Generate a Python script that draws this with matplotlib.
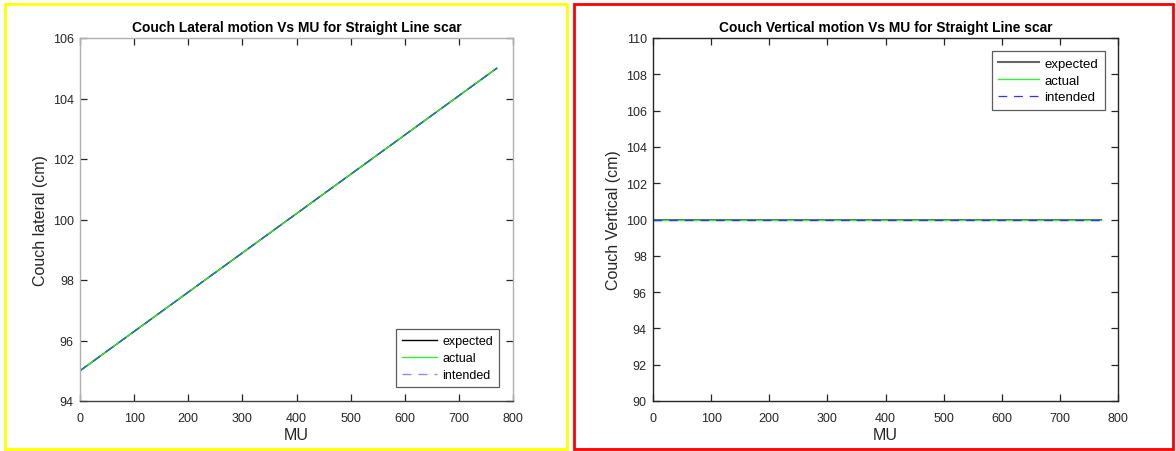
import matplotlib
matplotlib.use("Agg")
import matplotlib.pyplot as plt
from matplotlib.patches import Rectangle

plt.rcParams['font.family'] = ['Liberation Sans', 'DejaVu Sans']

# Data
mu = [0, 770]
lateral_expected = [95, 105]
lateral_actual = [95, 105]
lateral_intended = [95, 105]
vertical_expected = [100, 100]
vertical_actual = [100, 100]
vertical_intended = [100, 100]

lat_yticks = [94, 96, 98, 100, 102, 104, 106]
vert_yticks = [90, 92, 94, 96, 98, 100, 102, 104, 106, 108, 110]
xticks = [0, 100, 200, 300, 400, 500, 600, 700, 800]
legend_labels = ["expected", "actual", "intended"]

W, H = 1176, 452
fig = plt.figure(figsize=(W / 100, H / 100), dpi=100)

def ax_rect(x0, x1, ytop, ybot):
    return [x0 / W, (H - ybot) / H, (x1 - x0) / W, (ybot - ytop) / H]

txt = '#262626'

def style(ax, spine_col, bottom_col):
    ax.tick_params(direction='in', top=True, right=True, labelsize=9,
                   colors=txt, length=5, width=0.9)
    ax.tick_params(axis='x', pad=7.8)
    ax.tick_params(axis='y', pad=4.5)
    for s in ['top', 'right', 'left']:
        ax.spines[s].set_color(spine_col)
        ax.spines[s].set_linewidth(1.0)
    ax.spines['bottom'].set_color(bottom_col)
    ax.spines['bottom'].set_linewidth(1.0)

# Left panel
ax1 = fig.add_axes(ax_rect(80, 513, 39, 402))
ax1.plot(mu, lateral_expected, color='black', lw=1.0, label=legend_labels[0])
ax1.plot(mu, lateral_actual, color='#33ee33', lw=1.0, label=legend_labels[1])
ax1.plot(mu, lateral_intended, color='#0000ff', alpha=0.45, lw=1.0,
         ls=(0, (6.5, 5)), label=legend_labels[2])
ax1.set_xlim(0, 800)
ax1.set_ylim(94, 106)
ax1.set_xticks(xticks)
ax1.set_yticks(lat_yticks)
style(ax1, '#b0b0b0', '#404040')
ax1.set_title("Couch Lateral motion Vs MU for Straight Line scar",
              fontsize=9.9, fontweight='bold', pad=4.8)
ax1.set_xlabel("MU", fontsize=11.5, color=txt, labelpad=2)
ax1.set_ylabel("Couch lateral (cm)", fontsize=11.5, color=txt, labelpad=3.2)
leg1 = ax1.legend(loc='lower right', fontsize=9, frameon=True, fancybox=False,
                  edgecolor='#333333', handlelength=2.8, borderaxespad=1.1,
                  labelspacing=0.38, handletextpad=0.4, borderpad=0.5)
leg1.get_frame().set_linewidth(0.9)

# Right panel
ax2 = fig.add_axes(ax_rect(653, 1118, 39, 402))
ax2.plot(mu, vertical_expected, color='#666666', lw=1.5, label=legend_labels[0])
ax2.plot(mu, vertical_actual, color='#33ee33', lw=1.0, label=legend_labels[1])
ax2.plot(mu, vertical_intended, color='#3333ff', lw=0.9,
         ls=(0, (7, 5.5)), label=legend_labels[2])
ax2.set_xlim(0, 800)
ax2.set_ylim(90, 110)
ax2.set_xticks(xticks)
ax2.set_yticks(vert_yticks)
style(ax2, '#262626', '#262626')
ax2.set_title("Couch Vertical motion Vs MU for Straight Line scar",
              fontsize=9.9, fontweight='bold', pad=4.8)
ax2.set_xlabel("MU", fontsize=11.5, color=txt, labelpad=2)
ax2.set_ylabel("Couch Vertical (cm)", fontsize=11.5, color=txt, labelpad=3.2)
leg2 = ax2.legend(loc='upper right', fontsize=9.5, frameon=True, fancybox=False,
                  edgecolor='#333333', handlelength=3.1, borderaxespad=1.0,
                  labelspacing=0.33, handletextpad=0.4, borderpad=0.5)
leg2.get_frame().set_linewidth(0.9)

# Panel borders
def border(x0, y0, x1, y1, col):
    r = Rectangle((x0 / W, 1 - y1 / H), (x1 - x0) / W, (y1 - y0) / H,
                  transform=fig.transFigure, fill=False, edgecolor=col, lw=2.0)
    fig.patches.append(r)

border(5, 5, 567, 450, '#ffff00')
border(574, 5, 1173, 450, '#ff0000')

fig.savefig("out.png", dpi=100)
